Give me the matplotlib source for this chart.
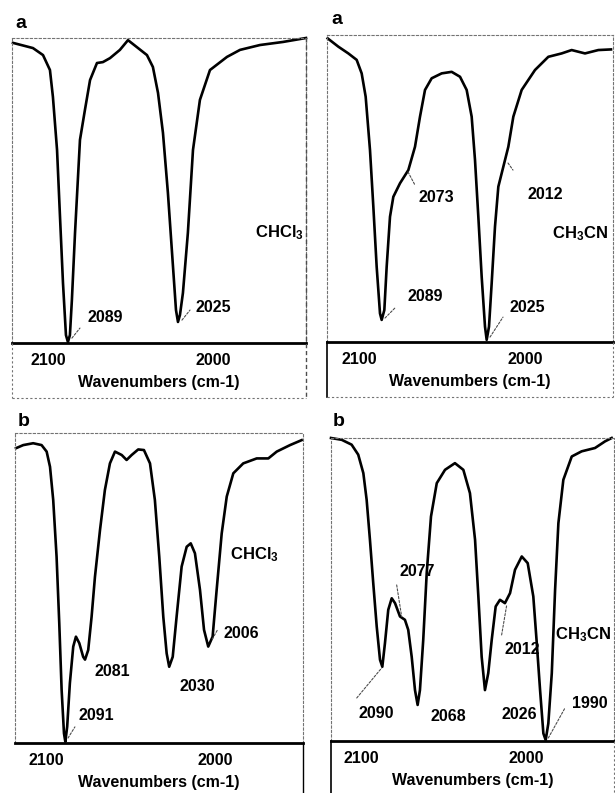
import matplotlib
matplotlib.use("Agg")
import matplotlib.pyplot as plt
from matplotlib.lines import Line2D

# ---------------- data ----------------
# Panel a, CHCl3
A1_WN = [2121.2, 2109.1, 2103.0, 2098.8, 2097.0, 2094.5, 2092.7, 2090.9, 2089.1, 2087.9,
         2086.7, 2085.5, 2083.6, 2080.6, 2077.6, 2074.5, 2070.3, 2066.7, 2062.4, 2056.4,
         2051.5, 2046.1, 2040.0, 2036.4, 2033.3, 2030.3, 2027.3, 2024.2, 2022.4, 2021.2,
         2020.0, 2018.2, 2015.2, 2012.1, 2007.9, 2001.8, 1991.5, 1983.6, 1971.5, 1957.6, 1943.6]
A1_T = [98.4, 96.7, 94.4, 89.5, 80.7, 63.3, 41.3, 19.7, 2.6, 0.3,
        2.6, 14.1, 36.1, 66.6, 76.4, 86.2, 91.8, 92.1, 93.4, 96.1,
        99.3, 97.0, 94.4, 90.5, 82.0, 68.9, 49.2, 24.9, 10.8, 6.9,
        9.2, 16.4, 36.1, 63.3, 79.7, 89.5, 93.8, 96.1, 97.7, 98.7, 100.0]

# Panel a, CH3CN
A2_WN = [2118.8, 2112.4, 2106.4, 2101.4, 2098.4, 2096.0, 2093.4, 2091.4, 2089.4, 2087.4,
         2086.4, 2084.8, 2083.4, 2081.4, 2079.4, 2075.4, 2070.4, 2066.4, 2063.4, 2060.4,
         2056.4, 2050.4, 2044.4, 2039.4, 2035.4, 2032.4, 2030.4, 2028.4, 2026.4, 2024.4,
         2023.4, 2022.0, 2020.4, 2018.4, 2016.4, 2013.4, 2010.4, 2007.4, 2002.4, 1994.4,
         1986.4, 1978.4, 1972.4, 1964.4, 1956.4, 1948.8]
A2_T = [98.9, 96.2, 94.0, 91.9, 87.5, 79.9, 62.5, 44.1, 24.5, 9.3,
        7.2, 10.4, 24.5, 40.8, 47.3, 51.7, 56.0, 63.6, 73.4, 82.1,
        85.9, 87.5, 88.0, 86.4, 82.1, 73.4, 59.3, 40.8, 21.3, 5.0,
        0.7, 5.0, 19.1, 37.6, 50.6, 57.1, 63.6, 73.4, 82.1, 88.6,
        92.9, 94.0, 95.1, 94.0, 95.1, 95.3]

# Panel b, CHCl3
B1_WN = [2118.2, 2113.9, 2108.0, 2103.0, 2100.0, 2098.0, 2096.1, 2094.1, 2092.5, 2091.1,
         2089.7, 2088.9, 2087.8, 2086.2, 2084.2, 2082.6, 2080.6, 2078.3, 2077.2, 2075.3,
         2073.3, 2071.3, 2068.3, 2065.4, 2062.4, 2059.4, 2055.4, 2052.5, 2049.5, 2045.6,
         2042.2, 2038.6, 2035.7, 2033.1, 2030.7, 2028.7, 2027.2, 2025.1, 2022.8, 2019.8,
         2016.8, 2014.4, 2011.9, 2008.9, 2006.5, 2004.0, 2001.4, 1999.0, 1996.0, 1993.0,
         1989.1, 1983.2, 1975.2, 1968.3, 1963.3, 1955.4, 1948.5]
B1_T = [95.1, 96.1, 96.7, 96.1, 94.0, 89.1, 78.4, 60.1, 38.6, 17.1,
        3.1, 0.4, 5.3, 19.3, 31.1, 34.3, 32.2, 27.8, 26.9, 30.0,
        40.7, 53.6, 68.7, 81.6, 90.2, 94.0, 92.9, 91.3, 92.9, 94.7,
        94.5, 90.2, 78.4, 60.1, 40.7, 28.9, 24.6, 27.8, 40.7, 56.9,
        63.3, 64.4, 61.2, 49.4, 36.5, 31.1, 34.3, 49.4, 67.6, 79.5,
        87.0, 90.2, 91.8, 91.8, 94.0, 96.1, 97.7]

# Panel b, CH3CN
B2_WN = [2118.6, 2112.1, 2106.1, 2102.1, 2099.0, 2097.0, 2095.0, 2093.0, 2090.9, 2088.9,
         2087.5, 2085.9, 2083.9, 2081.8, 2079.8, 2076.8, 2073.8, 2071.8, 2069.7, 2067.7,
         2066.1, 2064.7, 2062.7, 2060.6, 2058.0, 2054.5, 2049.5, 2043.5, 2038.4, 2034.4,
         2031.3, 2029.3, 2027.3, 2025.3, 2023.3, 2021.2, 2018.8, 2016.2, 2013.2, 2010.1,
         2007.1, 2003.0, 1999.4, 1996.0, 1993.9, 1991.9, 1989.9, 1988.5, 1986.9, 1984.8,
         1982.8, 1980.8, 1977.8, 1972.7, 1966.7, 1958.6, 1952.5, 1948.5]
B2_T = [100.0, 99.4, 97.8, 94.5, 88.4, 79.6, 66.4, 52.1, 37.8, 26.8,
        24.5, 32.3, 43.3, 47.1, 45.5, 41.1, 40.0, 36.7, 27.8, 16.8,
        11.9, 16.8, 33.4, 55.4, 74.1, 85.1, 89.5, 91.7, 89.5, 81.8,
        66.4, 47.7, 27.8, 16.8, 22.4, 33.4, 44.4, 46.6, 45.5, 48.8,
        56.5, 60.9, 58.7, 47.7, 32.3, 16.8, 2.5, 0.3, 5.8, 22.4,
        49.9, 71.9, 86.2, 93.9, 95.6, 96.7, 98.9, 100.0]

TICKS = [2100, 2000]
TICK_LABELS = ["2100", "2000"]
XLABEL = "Wavenumbers (cm-1)"
PANEL_LETTERS = ["a", "a", "b", "b"]
SOLVENTS = ["CHCl$_3$", "CH$_3$CN", "CHCl$_3$", "CH$_3$CN"]

# peak labels: (text, text position (wn, T), leader start, leader end or None)
A1_LABELS = [("2089", (2065.5, 8.2), (2085.5, 1.6), (2080.6, 4.9)),
             ("2025", (2000.0, 11.5), (2018.8, 7.5), (2013.9, 10.8))]
A2_LABELS = [("2073", (2053.8, 47.2), (2070.6, 55.4), (2066.4, 51.1)),
             ("2012", (1988.4, 47.9), (2010.6, 58.3), (2007.6, 56.0)),
             ("2089", (2060.4, 14.7), (2084.4, 7.8), (2078.4, 11.1)),
             ("2025", (1999.2, 11.1), (2021.4, 1.6), (2013.6, 8.1))]
B1_LABELS = [("2081", (2060.9, 23.1), None, None),
             ("2030", (2010.4, 18.2), None, None),
             ("2006", (1984.3, 35.3), (2001.6, 33.5), (1998.5, 36.5)),
             ("2091", (2070.4, 8.9), (2087.3, 1.6), (2083.2, 5.2))]
B2_LABELS = [("2077", (2066.2, 56.0), (2078.8, 51.5), (2075.8, 41.1)),
             ("2090", (2091.0, 9.1), (2103.0, 14.2), (2087.9, 24.1)),
             ("2068", (2047.4, 8.1), None, None),
             ("2026", (2004.4, 8.6), None, None),
             ("2012", (2002.5, 30.1), (2015.2, 35.0), (2012.1, 44.9)),
             ("1990", (1961.9, 12.4), (1986.9, 1.0), (1976.8, 10.9))]

# ---------------- style ----------------
plt.rcParams["font.family"] = ["Liberation Sans", "DejaVu Sans"]
plt.rcParams["font.weight"] = "bold"
plt.rcParams["mathtext.fontset"] = "custom"
plt.rcParams["mathtext.rm"] = "Liberation Sans:bold"
plt.rcParams["mathtext.it"] = "Liberation Sans:bold"
plt.rcParams["mathtext.bf"] = "Liberation Sans:bold"

W, H = 615, 793
fig = plt.figure(figsize=(W / 100, H / 100), dpi=100)


def fx(px):
    return px / W


def fy(py):
    return 1 - py / H


def add_fig_line(x0, y0, x1, y1, **kw):
    fig.add_artist(Line2D([fx(x0), fx(x1)], [fy(y0), fy(y1)],
                          transform=fig.transFigure, **kw))


panels = [
    # left, right, top, bottom(px), xlim, data, labels, solvent pos, letter pos
    dict(box=(12, 306, 38, 343), xlim=(2121.8, 1943.6), wn=A1_WN, t=A1_T,
         labels=A1_LABELS, solv=(1959.4, 36.1), letter=(21, 23)),
    dict(box=(327, 613, 35, 342), xlim=(2119.2, 1947.6), wn=A2_WN, t=A2_T,
         labels=A2_LABELS, solv=(1967.4, 35.2), letter=(337, 20)),
    dict(box=(15, 303, 433, 743), xlim=(2118.8, 1947.7), wn=B1_WN, t=B1_T,
         labels=B1_LABELS, solv=(1976.8, 60.6), letter=(24, 421)),
    dict(box=(331, 614, 438, 741), xlim=(2118.6, 1947.1), wn=B2_WN, t=B2_T,
         labels=B2_LABELS, solv=(1965.9, 35.0), letter=(339, 421)),
]

FS = 11.5
dotted = dict(color="0.45", lw=0.8, ls=(0, (2, 2)))

for i, p in enumerate(panels):
    l, r, t, b = p["box"]
    ax = fig.add_axes([fx(l), fy(b), (r - l) / W, (b - t) / H])
    ax.plot(p["wn"], p["t"], color="black", lw=1.9, solid_joinstyle="round",
            clip_on=False)
    ax.set_xlim(*p["xlim"])
    ax.set_ylim(0, 100)
    ax.set_yticks([])
    ax.set_xticks(TICKS)
    ax.set_xticklabels(TICK_LABELS, fontsize=FS, fontweight="bold")
    ax.tick_params(axis="x", length=0, pad=7)
    ax.set_xlabel(XLABEL, fontsize=FS, fontweight="bold", labelpad=5)
    ax.patch.set_alpha(0)
    for s in ["top", "left", "right"]:
        ax.spines[s].set_color("0.45")
        ax.spines[s].set_linewidth(0.8)
        ax.spines[s].set_linestyle((0, (2, 2)))
    ax.spines["bottom"].set_linewidth(2.0)
    ax.spines["bottom"].set_color("black")

    for txt, tpos, l0, l1 in p["labels"]:
        ax.text(tpos[0], tpos[1], txt, fontsize=FS, fontweight="bold",
                ha="center", va="center", clip_on=False)
        if l0 is not None:
            ax.annotate("", xy=l1, xytext=l0, annotation_clip=False,
                        arrowprops=dict(arrowstyle="-", lw=0.8, color="0.3",
                                        ls=(0, (2, 1.5)), shrinkA=0, shrinkB=0))
    ax.text(p["solv"][0], p["solv"][1], SOLVENTS[i], fontsize=12,
            fontweight="bold", ha="center", va="center", clip_on=False)

    fig.text(fx(p["letter"][0]), fy(p["letter"][1]), PANEL_LETTERS[i],
             fontsize=14, fontweight="bold", ha="center", va="center")

# frame extensions around the tick-label area
add_fig_line(12, 343, 12, 398, **dotted)
add_fig_line(306, 38, 306, 398, color="0.3", lw=1.0, ls=(0, (3, 2)))
add_fig_line(12, 398, 306, 398, **dotted)
add_fig_line(327, 342, 327, 397, color="black", lw=1.2)
add_fig_line(613, 342, 613, 397, **dotted)
add_fig_line(327, 397, 613, 397, **dotted)
add_fig_line(303, 743, 303, 793, color="black", lw=1.0)
add_fig_line(331, 741, 331, 793, color="black", lw=1.2)
add_fig_line(614, 741, 614, 793, **dotted)

fig.savefig("out.png", dpi=100)
